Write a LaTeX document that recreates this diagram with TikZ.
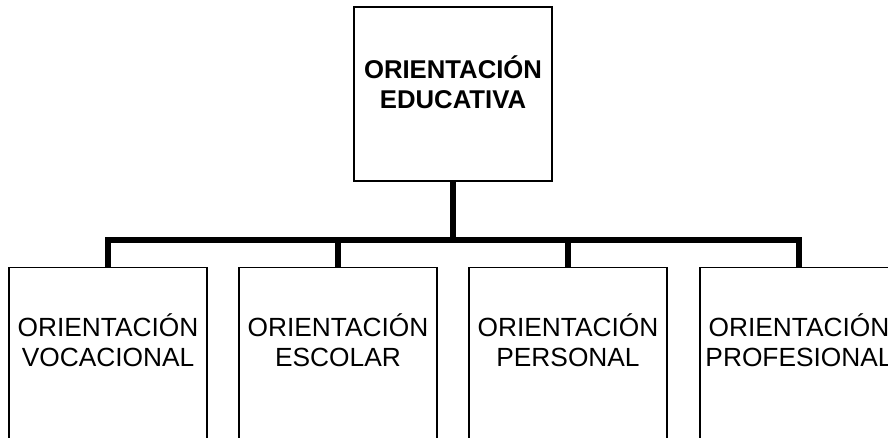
\documentclass[tikz,border=0pt]{standalone}
\usepackage{fontspec}
\setmainfont{Liberation Sans}
\begin{document}
\begin{tikzpicture}[x=1pt,y=-1pt,
  boxnode/.style={draw=black,line width=1.3pt,rectangle,inner sep=0pt,minimum width=198pt},
  toplabel/.style={inner sep=0pt,align=center,font=\fontsize{25.7}{30}\selectfont\bfseries},
  sublabel/.style={inner sep=0pt,align=center,font=\fontsize{26.3}{30}\selectfont},
  conn/.style={line width=6pt,line cap=rect,line join=miter}]
\useasboundingbox (0,0) rectangle (888,438);
\clip (0,0) rectangle (888,438);
% top box
\node[boxnode,minimum height=174pt] (top) at (453,94) {};
\node[toplabel] (toptext) at (453,82.5) {ORIENTACIÓN\\EDUCATIVA};
% bottom boxes
\node[boxnode,minimum height=200pt,anchor=north] (b1) at (108,267) {};
\node[boxnode,minimum height=200pt,anchor=north] (b2) at (338,267) {};
\node[boxnode,minimum height=200pt,anchor=north] (b3) at (568,267) {};
\node[boxnode,minimum height=200pt,anchor=north] (b4) at (799,267) {};
\node[sublabel] (t1) at (108,340.5) {ORIENTACIÓN\\VOCACIONAL};
\node[sublabel] (t2) at (338,340.5) {ORIENTACIÓN\\ESCOLAR};
\node[sublabel] (t3) at (568,340.5) {ORIENTACIÓN\\PERSONAL};
\node[sublabel] (t4) at (799,340.5) {ORIENTACIÓN\\PROFESIONAL};
% connectors
\coordinate (hub) at (453,240);
\draw[line width=6pt] (top.south) -- (hub);
\draw[line width=6pt,line join=miter] (b1.north) -- (b1.north |- hub) -- (b4.north |- hub) -- (b4.north);
\draw[line width=6pt] (b2.north) -- (b2.north |- hub);
\draw[line width=6pt] (b3.north) -- (b3.north |- hub);
\end{tikzpicture}
\end{document}
